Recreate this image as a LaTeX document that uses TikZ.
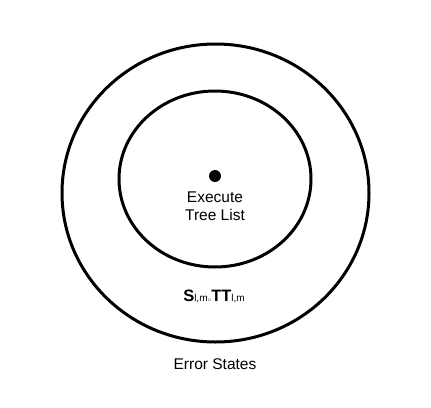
\documentclass[tikz,border=0pt]{standalone}
\usepackage{fontspec}
\usetikzlibrary{shapes.geometric}
\setmainfont{Liberation Sans}
\begin{document}
\begin{tikzpicture}[x=1pt,y=-1pt,
  ring/.style={draw=black,line width=3pt,ellipse,inner sep=0pt},
  lbl/.style={font=\fontsize{15.5}{18}\selectfont,align=center,inner sep=0pt}]
\useasboundingbox (0,0) rectangle (431,407);
\node[ring,minimum width=307pt,minimum height=298pt] (outer) at (215.5,193) {};
\node[ring,minimum width=192pt,minimum height=176pt] (inner) at (215,179) {};
\fill (215,176) circle (6pt) coordinate (dot);
\node[lbl] (exec) at (215,206) {Execute\\Tree List};
\node[lbl,anchor=base] (st) at (214,301) {{\fontsize{16.5}{18}\selectfont\bfseries S}{\fontsize{10}{10}\selectfont l,m$\scriptscriptstyle\circ$}{\fontsize{16.5}{18}\selectfont\bfseries TT}{\fontsize{10}{10}\selectfont l,m}};
\node[lbl] (err) at (215,364) {Error States};
\end{tikzpicture}
\end{document}
